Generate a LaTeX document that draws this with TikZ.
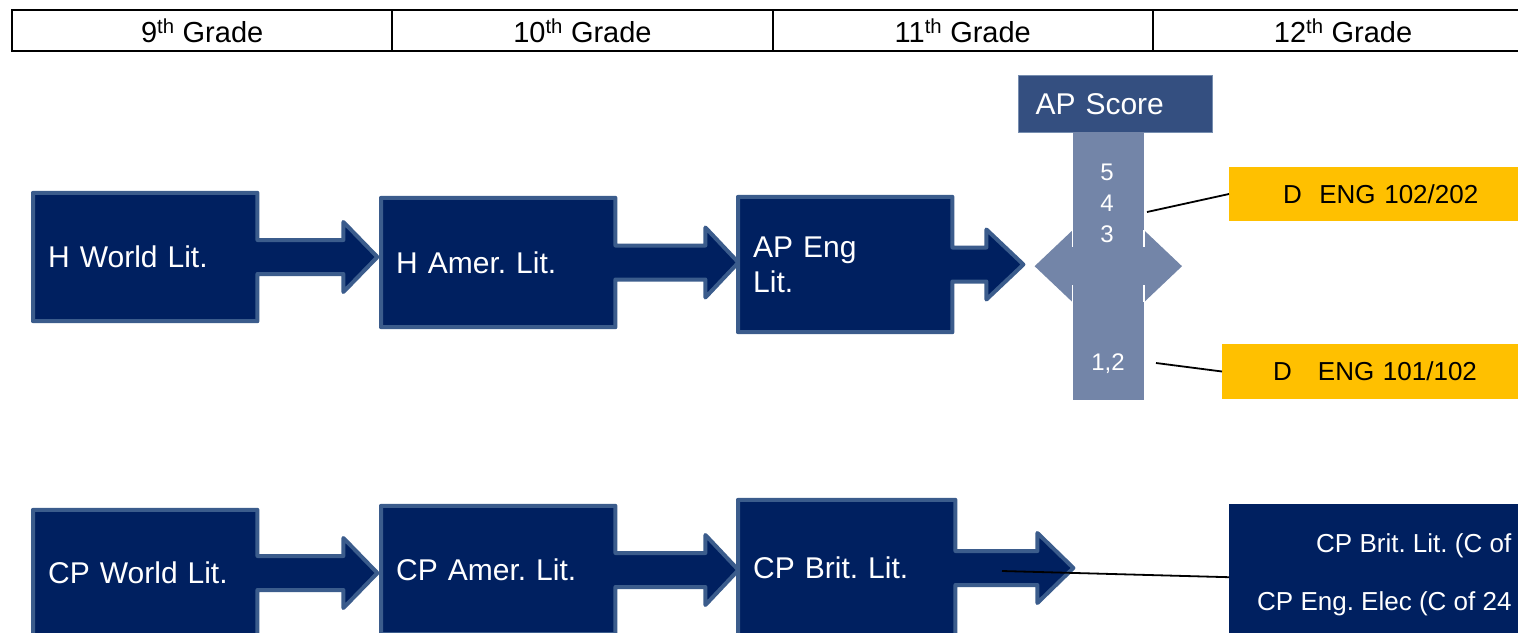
\documentclass[tikz,border=0pt]{standalone}
\usepackage{fontspec}
\setmainfont{Liberation Sans}
\usepackage{tikz}
\usetikzlibrary{backgrounds}
\usepackage{xcolor}
\definecolor{navy}{RGB}{0,32,96}
\definecolor{navyedge}{RGB}{59,92,140}
\definecolor{scorehead}{RGB}{52,79,128}
\definecolor{scorebar}{RGB}{115,133,168}
\definecolor{ctcgold}{RGB}{255,192,0}
\frenchspacing
\tikzset{
  gradecell/.style={draw, line width=2pt, anchor=north west, minimum width=380.3pt,
    minimum height=41pt, font=\fontsize{29}{33}\selectfont},
  course/.style={text=white, align=left, anchor=west, inner xsep=15pt, inner ysep=0pt,
    font=\fontsize{30}{35}\selectfont},
  courseshape/.style={fill=navy, draw=navyedge, line width=4pt, line join=round},
  score/.style={text=white, font=\fontsize{24}{28}\selectfont},
  ctcbox/.style={fill=ctcgold, anchor=west, align=left, inner ysep=0pt,
    font=\fontsize{26}{30}\selectfont},
  link/.style={draw=black, line width=1.8pt}
}
% box with a block arrow on its right side
\newcommand{\coursearrow}[3]{%
  \begin{scope}[on background layer]
    \draw[courseshape] (#1.north west) -- (#1.north east)
      -- ([yshift=17pt]#1.east) -- ([xshift=#2pt, yshift=17pt]#1.east)
      -- ([xshift=#2pt, yshift=35pt]#1.east) -- ([xshift=#3pt]#1.east)
      -- ([xshift=#2pt, yshift=-35pt]#1.east) -- ([xshift=#2pt, yshift=-17pt]#1.east)
      -- ([yshift=-17pt]#1.east) -- (#1.south east) -- (#1.south west) -- cycle;
  \end{scope}}
\begin{document}
\begin{tikzpicture}[x=1pt, y=-1pt]
    \useasboundingbox (0,0) rectangle (1518,632);
    \clip (0,0) rectangle (1518,632);
    % grade header
    \foreach \g [count=\i] in {9,10,11,12} {
        \node[gradecell] (grade\g) at ({11+380.3*(\i-1)},9) {\g\textsuperscript{th} Grade};
    }

    % honors track
    \node[course, text width=194pt, minimum height=128pt] (hworld) at (33,257) {H World Lit.};
    \node[course, text width=204pt, minimum height=129pt] (hamer) at (381,262.5) {H Amer. Lit.};
    \node[course, text width=184pt, minimum height=135pt] (apeng) at (738,264.5) {AP Eng\\Lit.};
    \coursearrow{hworld}{86}{120}
    \coursearrow{hamer}{90}{123}
    \coursearrow{apeng}{34}{71}

    % AP score split
    \node[fill=scorehead, draw=navyedge!70, line width=1pt, anchor=north west, text=white,
      align=left, text width=160pt, inner xsep=17pt, minimum height=57pt,
      font=\fontsize{30}{34}\selectfont] (aphead) at (1018,75) {AP Score};
    \node[fill=scorebar, anchor=north, minimum width=71pt, minimum height=268pt] (apbar) at (1108.3,132) {};
    \fill[scorebar] ([xshift=-38pt]apbar.west) -- ([yshift=36pt]apbar.west) -- ([yshift=19pt]apbar.west)
      -- ([yshift=19pt]apbar.east) -- ([yshift=36pt]apbar.east) -- ([xshift=38pt]apbar.east)
      -- ([yshift=-36pt]apbar.east) -- ([yshift=-19pt]apbar.east) -- ([yshift=-19pt]apbar.west)
      -- ([yshift=-36pt]apbar.west) -- cycle;
    \draw[white, line width=1.5pt] ([yshift=36pt]apbar.west) -- ([yshift=19pt]apbar.west)
      ([yshift=-36pt]apbar.west) -- ([yshift=-19pt]apbar.west)
      ([yshift=36pt]apbar.east) -- ([yshift=19pt]apbar.east)
      ([yshift=-36pt]apbar.east) -- ([yshift=-19pt]apbar.east);
    \node[score] (s5) at (1107,172) {5};
    \node[score] (s4) at (1107,203) {4};
    \node[score] (s3) at (1107,234) {3};
    \node[score, anchor=base] (s12) at (1108,370) {1,2};

    % dual credit results
    \node[ctcbox, text width=260pt, inner xsep=54pt, minimum height=54pt] (dhigh) at (1229,194) {D\ \ ENG 102/202};
    \node[ctcbox, text width=260pt, inner xsep=51pt, minimum height=55pt] (dlow) at (1222,371.5) {D\ \ \ ENG 101/102};
    \coordinate (hiscore) at (1147,212);
    \coordinate (loscore) at (1156,363);
    \draw[link] (hiscore) -- (dhigh.west);
    \draw[link] (loscore) -- (dlow.west);

    % college prep track
    \node[course, text width=194pt, minimum height=126pt] (cpworld) at (33,573) {CP World Lit.};
    \node[course, text width=204pt, minimum height=128pt] (cpamer) at (381,570) {CP Amer. Lit.};
    \node[course, text width=187pt, minimum height=136pt] (cpbrit) at (738,568) {CP Brit. Lit.};
    \coursearrow{cpworld}{86}{120}
    \coursearrow{cpamer}{90}{123}
    \coursearrow{cpbrit}{82}{118}

    \node[fill=navy, anchor=north west, minimum width=320pt, minimum height=146pt] (cpelect) at (1229,504) {};
    \node[text=white, anchor=base west, inner sep=0pt, font=\fontsize{26}{30}\selectfont] (cpline1) at (1316,552) {CP Brit. Lit. (C of};
    \node[text=white, anchor=base west, inner sep=0pt, font=\fontsize{26}{30}\selectfont] (cpline2) at (1257,610) {CP Eng. Elec (C of 24};
    \coordinate (britout) at (1002,571);
    \draw[link] (britout) -- (cpelect.west);
\end{tikzpicture}
\end{document}
